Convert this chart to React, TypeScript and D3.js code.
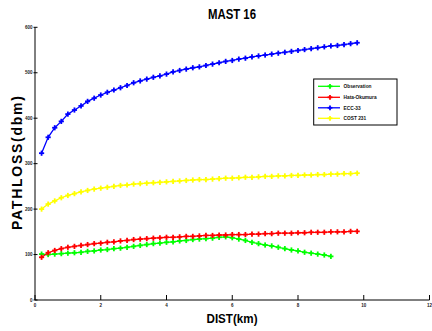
import React from "react";
import * as d3 from "d3";

// Distance samples (km)
const distAll: number[] = [
  0.2, 0.4, 0.6, 0.8, 1.0, 1.2, 1.4, 1.6, 1.8, 2.0,
  2.2, 2.4, 2.6, 2.8, 3.0, 3.2, 3.4, 3.6, 3.8, 4.0,
  4.2, 4.4, 4.6, 4.8, 5.0, 5.2, 5.4, 5.6, 5.8, 6.0,
  6.2, 6.4, 6.6, 6.8, 7.0, 7.2, 7.4, 7.6, 7.8, 8.0,
  8.2, 8.4, 8.6, 8.8, 9.0, 9.2, 9.4, 9.6, 9.8,
];

// Measured path loss (stops at 9.0 km)
const observation: number[] = [
  101, 100, 101, 102, 103, 104, 105, 107, 108, 110,
  111, 113, 114, 116, 118, 120, 122, 124, 125, 127,
  128, 130, 131, 133, 134, 135, 136, 138, 139, 137,
  134, 131, 127, 124, 121, 119, 116, 113, 110, 108,
  105, 103, 101, 99, 96,
];

const hataOkumura: number[] = [
  94, 104, 109, 113, 116, 118, 120, 122, 124, 125,
  127, 128, 130, 131, 133, 134, 135, 136, 137, 138,
  138, 139, 140, 140, 141, 142, 142, 143, 143, 144,
  144, 144, 145, 145, 146, 146, 147, 147, 147, 148,
  148, 149, 149, 149, 150, 150, 150, 151, 151,
];

const ecc33: number[] = [
  323, 358, 379, 393, 409, 418, 427, 437, 444, 451,
  457, 462, 467, 472, 478, 482, 486, 490, 493, 497,
  502, 505, 508, 511, 513, 516, 519, 522, 525, 527,
  530, 532, 535, 537, 539, 541, 543, 545, 547, 549,
  551, 553, 555, 557, 559, 560, 562, 564, 566,
];

const cost231: number[] = [
  200, 211, 218, 225, 230, 234, 238, 241, 244, 246,
  248, 250, 252, 253, 255, 256, 257, 258, 259, 260,
  261, 262, 263, 264, 265, 265, 266, 267, 268, 268,
  269, 270, 270, 271, 272, 272, 273, 273, 274, 274,
  275, 275, 276, 276, 277, 277, 278, 278, 279,
];

const xTicks: number[] = [0, 2, 4, 6, 8, 10, 12];
const yTicks: number[] = [0, 100, 200, 300, 400, 500, 600];

const seriesNames: string[] = ["Observation", "Hata-Okumura", "ECC-33", "COST 231"];
const seriesColors: string[] = ["#00ff00", "#ff0000", "#0000ff", "#ffff00"];
const seriesValues: number[][] = [observation, hataOkumura, ecc33, cost231];

const W = 432;
const H = 331;

export default function App() {
  const x = d3.scaleLinear().domain([0, 12]).range([35, 429.5]);
  const y = d3.scaleLinear().domain([0, 600]).range([300, 27.3]);

  const line = d3
    .line<[number, number]>()
    .x((d) => x(d[0]))
    .y((d) => y(d[1]));

  const plus = (cx: number, cy: number, r: number, color: string, key: string) => (
    <g key={key} stroke={color} strokeWidth={1.8}>
      <line x1={cx - r} x2={cx + r} y1={cy} y2={cy} />
      <line x1={cx} x2={cx} y1={cy - r} y2={cy + r} />
    </g>
  );

  const legendX = 313.7;
  const legendY = 79;
  const legendRows = [86.3, 97.3, 107.8, 118.3];

  return (
    <div style={{ position: "fixed", left: 0, top: 0 }}>
      <svg width={W} height={H} style={{ display: "block", background: "#fff" }}>
        {/* title */}
        <text
          x={232}
          y={19}
          textAnchor="middle"
          fontFamily="Liberation Sans, Arial, sans-serif"
          fontWeight="bold"
          fontSize={14}
          textLength={48}
          lengthAdjust="spacingAndGlyphs"
        >
          MAST 16
        </text>

        {/* axes */}
        <g stroke="#000" strokeWidth={1}>
          <line x1={x(0)} x2={x(0)} y1={y(600)} y2={y(0)} />
          <line x1={x(0)} x2={x(12)} y1={y(0)} y2={y(0)} />
          {yTicks.map((t) => (
            <line key={"yt" + t} x1={x(0) - 1.5} x2={x(0) + 2.5} y1={y(t)} y2={y(t)} />
          ))}
          {xTicks.map((t) => (
            <line key={"xt" + t} x1={x(t)} x2={x(t)} y1={y(0)} y2={y(0) - 5} />
          ))}
        </g>
        <g fontFamily="Liberation Sans, Arial, sans-serif" fontSize={4.5} fontWeight="bold" fill="#222">
          {yTicks.map((t) => (
            <text key={"yl" + t} x={x(0) - 2.5} y={y(t) + 1.6} textAnchor="end">
              {t}
            </text>
          ))}
          {xTicks.map((t) => (
            <text key={"xl" + t} x={x(t)} y={y(0) + 7} textAnchor="middle">
              {t}
            </text>
          ))}
        </g>

        {/* axis titles */}
        <text
          x={232}
          y={323}
          textAnchor="middle"
          fontFamily="Liberation Sans, Arial, sans-serif"
          fontWeight="bold"
          fontSize={13}
          textLength={51}
          lengthAdjust="spacingAndGlyphs"
        >
          DIST(km)
        </text>
        <text
          transform={`translate(22,163) rotate(-90)`}
          textAnchor="middle"
          fontFamily="Liberation Sans, Arial, sans-serif"
          fontWeight="bold"
          fontSize={14}
          textLength={134}
          lengthAdjust="spacing"
        >
          PATHLOSS(dbm)
        </text>

        {/* series */}
        {seriesValues.map((vals, si) => {
          const pts: [number, number][] = vals.map((v, i) => [distAll[i], v]);
          return (
            <g key={"s" + si}>
              <path d={line(pts) || ""} fill="none" stroke={seriesColors[si]} strokeWidth={1.3} />
              {pts.map((p, i) => plus(x(p[0]), y(p[1]), 2.6, seriesColors[si], `m${si}-${i}`))}
            </g>
          );
        })}

        {/* legend */}
        <rect x={legendX} y={legendY} width={83.3} height={46} fill="#fff" stroke="#000" strokeWidth={1} />
        {seriesNames.map((name, i) => (
          <g key={"lg" + i}>
            <line x1={318} x2={340} y1={legendRows[i]} y2={legendRows[i]} stroke={seriesColors[i]} strokeWidth={1.3} />
            {plus(330, legendRows[i], 2.4, seriesColors[i], "lm" + i)}
            <text
              x={343.5}
              y={legendRows[i] + 1.7}
              fontFamily="Liberation Sans, Arial, sans-serif"
              fontSize={4.8}
              fontWeight="bold"
              fill="#111"
            >
              {name}
            </text>
          </g>
        ))}
      </svg>
    </div>
  );
}
